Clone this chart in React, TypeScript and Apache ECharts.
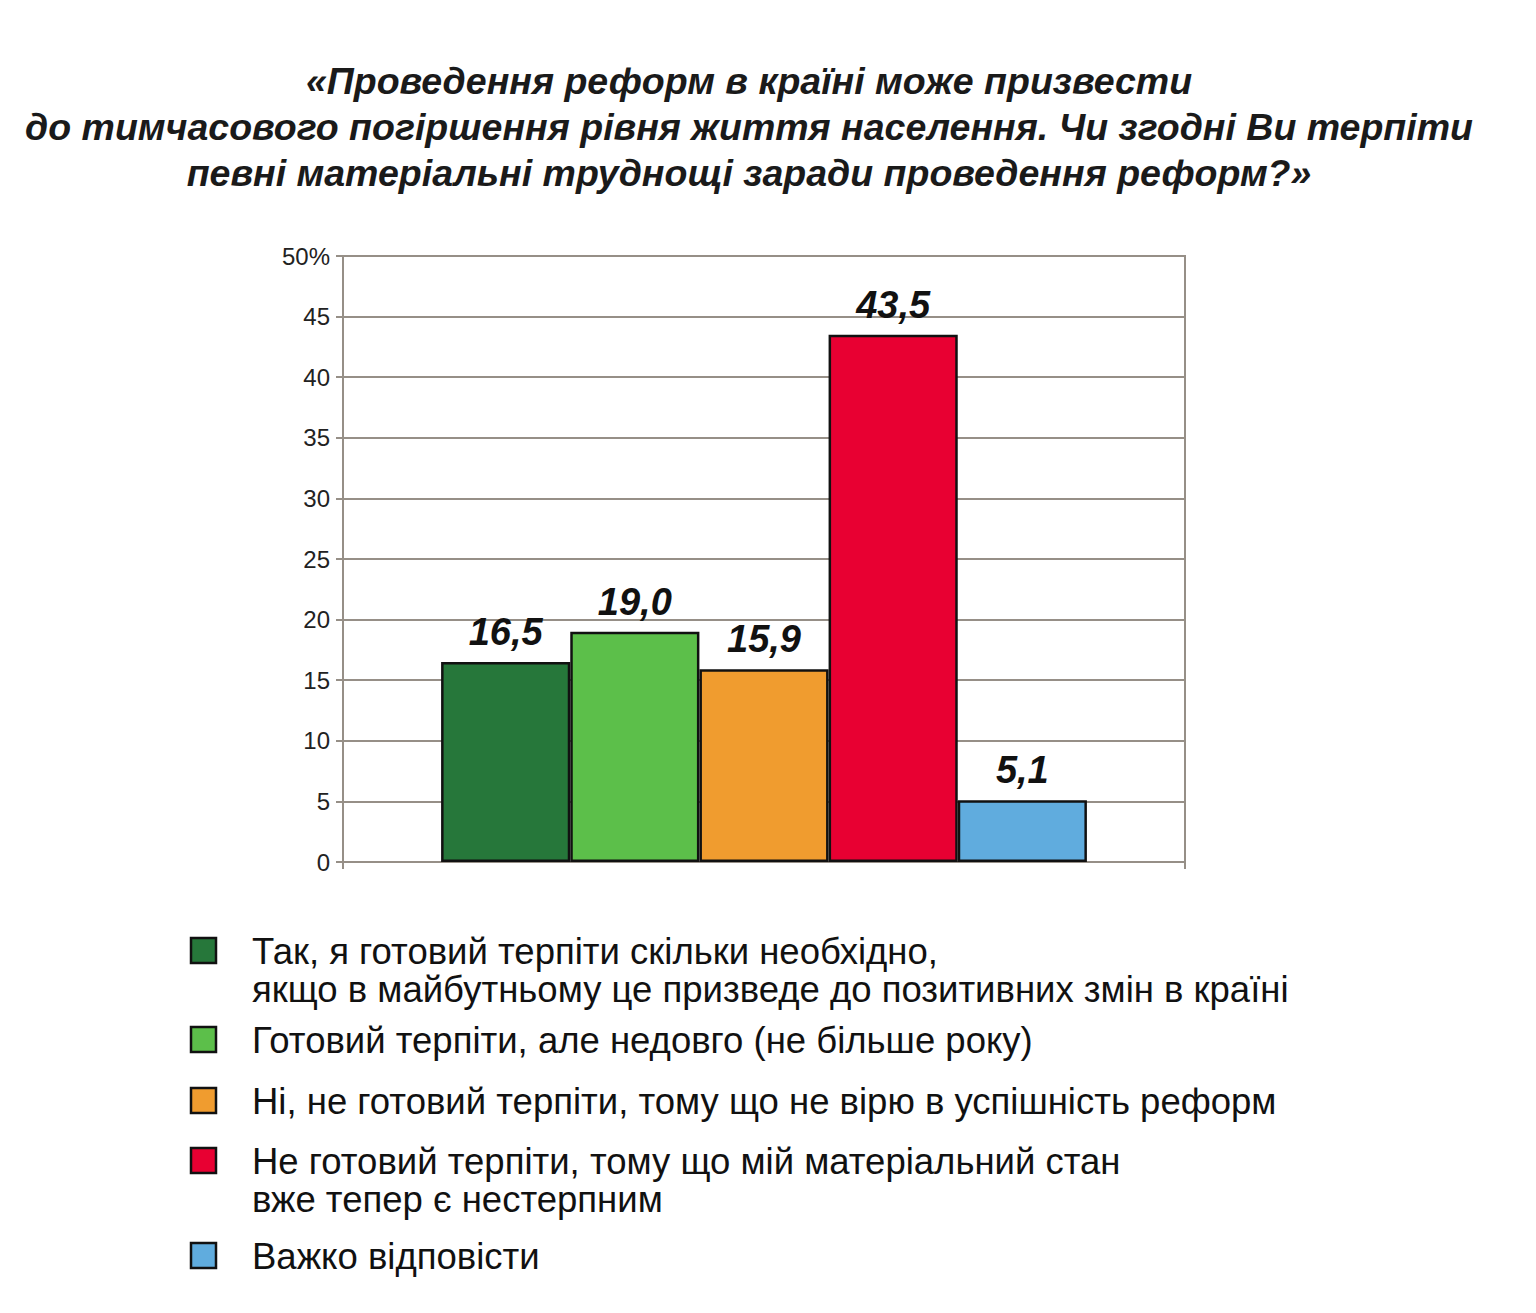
import React, { useEffect, useRef } from "react";
import * as echarts from "echarts";

const titleLines = [
  "«Проведення реформ в країні може призвести",
  "до тимчасового погіршення рівня життя населення. Чи згодні Ви терпіти",
  "певні матеріальні труднощі заради проведення реформ?»",
];

const categories = [""];

const seriesNames = [
  "Так, я готовий терпіти скільки необхідно,\nякщо в майбутньому це призведе до позитивних змін в країні",
  "Готовий терпіти, але недовго (не більше року)",
  "Ні, не готовий терпіти, тому що не вірю в успішність реформ",
  "Не готовий терпіти, тому що мій матеріальний стан\nвже тепер є нестерпним",
  "Важко відповісти",
];

const seriesValues = [16.5, 19.0, 15.9, 43.5, 5.1];

const seriesColors = ["#26773a", "#5cbf4a", "#f09c2f", "#e80032", "#60acde"];

const yTicks = [0, 5, 10, 15, 20, 25, 30, 35, 40, 45, 50];

const legendCenters = [951, 1040, 1101, 1161, 1256];

const FONT = "'Liberation Sans', Arial, sans-serif";
const GRID_COLOR = "#968f87";

export default function App() {
  const ref = useRef<HTMLDivElement>(null);

  useEffect(() => {
    document.body.style.margin = "0";
    if (!ref.current) return;
    const chart = echarts.init(ref.current, undefined, { renderer: "svg" });

    const graphics: any[] = [];
    graphics.push({
      type: "text",
      x: 749,
      y: 58,
      style: {
        text: titleLines.join("\n"),
        fontFamily: FONT,
        fontSize: 37.5,
        fontWeight: "bold",
        fontStyle: "italic",
        fill: "#1a1a1a",
        textAlign: "center",
        textVerticalAlign: "top",
        lineHeight: 46,
      },
    });

    seriesNames.forEach((name, i) => {
      const cy = legendCenters[i];
      graphics.push({
        type: "rect",
        shape: { x: 191, y: cy - 13, width: 25, height: 25 },
        style: { fill: seriesColors[i], stroke: "#111", lineWidth: 2.5 },
      });
      graphics.push({
        type: "text",
        x: 252,
        y: cy - 19,
        style: {
          text: name,
          fontFamily: FONT,
          fontSize: 36.5,
          fill: "#111",
          textAlign: "left",
          textVerticalAlign: "top",
          lineHeight: 38,
        },
      });
    });

    chart.setOption({
      animation: false,
      backgroundColor: "#ffffff",
      grid: {
        left: 343,
        right: 351,
        top: 256,
        bottom: 451,
        show: true,
        borderColor: GRID_COLOR,
        borderWidth: 2,
        backgroundColor: "transparent",
      },
      xAxis: {
        type: "category",
        data: categories,
        axisLine: { show: true, lineStyle: { color: GRID_COLOR, width: 2 } },
        axisTick: { show: true, length: 7, lineStyle: { color: GRID_COLOR, width: 2 } },
        axisLabel: { show: false },
      },
      yAxis: {
        type: "value",
        min: yTicks[0],
        max: yTicks[yTicks.length - 1],
        interval: 5,
        axisLine: { show: true, lineStyle: { color: GRID_COLOR, width: 2 } },
        axisTick: { show: true, length: 7, lineStyle: { color: GRID_COLOR, width: 2 } },
        splitLine: { show: true, lineStyle: { color: GRID_COLOR, width: 2 } },
        axisLabel: {
          margin: 13,
          fontFamily: FONT,
          fontSize: 24,
          color: "#222",
          formatter: (v: number) => (v === 50 ? "50%" : String(v)),
        },
      },
      graphic: graphics,
      series: seriesNames.map((name, i) => ({
        type: "bar",
        name,
        data: [seriesValues[i]],
        barGap: "0%",
        barCategoryGap: "23.3%",
        itemStyle: {
          color: seriesColors[i],
          borderColor: "#111",
          borderWidth: 2.5,
        },
        label: {
          show: true,
          position: "top",
          distance: 11,
          fontFamily: FONT,
          fontSize: 38,
          fontWeight: "bold",
          fontStyle: "italic",
          color: "#111",
          formatter: (p: any) => Number(p.value).toFixed(1).replace(".", ","),
        },
        z: 3,
      })),
    });

    return () => chart.dispose();
  }, []);

  return <div ref={ref} style={{ width: 1536, height: 1313 }} />;
}
